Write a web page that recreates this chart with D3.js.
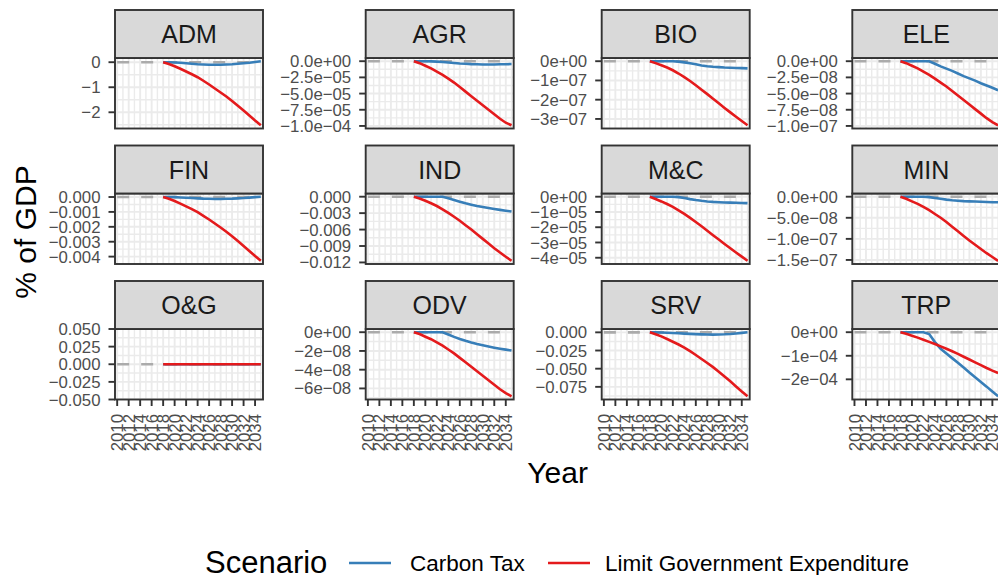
<!DOCTYPE html>
<html><head><meta charset="utf-8">
<script src="https://cdn.jsdelivr.net/npm/d3@7"></script>
<style>body{margin:0;background:#fff;} svg{display:block;font-family:"Liberation Sans",Arial,sans-serif;}</style>
</head><body><svg id="chart" width="998" height="575"></svg>
<script>
// ---------- data ----------
const sectors = ["ADM","AGR","BIO","ELE","FIN","IND","M&C","MIN","O&G","ODV","SRV","TRP"];
const years = [2018,2019,2020,2021,2022,2023,2024,2025,2026,2027,2028,2029,2030,2031,2032,2033,2034,2035];
const baselineYears = [2010, 2035];
const baselineValues = [0, 0];
const xTicks = [2010,2012,2014,2016,2018,2020,2022,2024,2026,2028,2030,2032,2034];
const scenarios = ["Carbon Tax","Limit Government Expenditure"];

// Carbon Tax
const admCT = [0,0,-0.01,-0.02,-0.04,-0.06,-0.08,-0.09,-0.1,-0.1,-0.1,-0.09,-0.08,-0.06,-0.04,-0.02,0.01,0.04];
const agrCT = [0,0,0,-0.2e-6,-0.6e-6,-1.2e-6,-2.0e-6,-2.8e-6,-3.5e-6,-4.0e-6,-4.5e-6,-4.8e-6,-5.0e-6,-5.0e-6,-5.0e-6,-4.8e-6,-4.6e-6,-4.4e-6];
const bioCT = [0,0,0,0,0,-0.02e-7,-0.06e-7,-0.11e-7,-0.16e-7,-0.22e-7,-0.26e-7,-0.29e-7,-0.31e-7,-0.33e-7,-0.34e-7,-0.35e-7,-0.36e-7,-0.37e-7];
const eleCT = [0,0,0,0,0,0,-0.04e-7,-0.08e-7,-0.115e-7,-0.15e-7,-0.19e-7,-0.23e-7,-0.265e-7,-0.3e-7,-0.34e-7,-0.375e-7,-0.41e-7,-0.45e-7];
const finCT = [0,0,-0.01e-3,-0.03e-3,-0.05e-3,-0.07e-3,-0.09e-3,-0.11e-3,-0.12e-3,-0.13e-3,-0.13e-3,-0.12e-3,-0.11e-3,-0.09e-3,-0.07e-3,-0.04e-3,-0.01e-3,0.02e-3];
const indCT = [0,0,0,0,0,0,-0.3e-3,-0.6e-3,-0.9e-3,-1.2e-3,-1.45e-3,-1.68e-3,-1.88e-3,-2.06e-3,-2.23e-3,-2.4e-3,-2.55e-3,-2.7e-3];
const mcCT  = [0,0,0,0,0,-0.03e-5,-0.09e-5,-0.16e-5,-0.22e-5,-0.27e-5,-0.31e-5,-0.34e-5,-0.36e-5,-0.38e-5,-0.39e-5,-0.4e-5,-0.41e-5,-0.42e-5];
const minCT = [0,0,0,0,0,-0.01e-7,-0.03e-7,-0.05e-7,-0.07e-7,-0.085e-7,-0.095e-7,-0.105e-7,-0.11e-7,-0.115e-7,-0.12e-7,-0.125e-7,-0.13e-7,-0.13e-7];
const ogCT  = [0,0,0,0,0,0,0,0,0,0,0,0,0,0,0,0,0,0];
const odvCT = [0,0,0,0,0,0,-0.25e-8,-0.5e-8,-0.72e-8,-0.92e-8,-1.1e-8,-1.26e-8,-1.4e-8,-1.53e-8,-1.65e-8,-1.76e-8,-1.86e-8,-1.95e-8];
const srvCT = [0,0,-0.02e-2,-0.05e-2,-0.09e-2,-0.13e-2,-0.17e-2,-0.21e-2,-0.25e-2,-0.28e-2,-0.3e-2,-0.31e-2,-0.3e-2,-0.27e-2,-0.22e-2,-0.15e-2,-0.07e-2,0.02e-2];
const trpCT = [0,0,0,0,0,-0.08e-4,-0.42e-4,-0.7e-4,-0.9e-4,-1.1e-4,-1.3e-4,-1.5e-4,-1.71e-4,-1.91e-4,-2.11e-4,-2.31e-4,-2.52e-4,-2.72e-4];

// Limit Government Expenditure
const admLGE = [0,-0.07,-0.16,-0.26,-0.37,-0.48,-0.6,-0.74,-0.89,-1.05,-1.21,-1.37,-1.55,-1.74,-1.93,-2.13,-2.33,-2.52];
const agrLGE = [0,-3e-6,-7e-6,-11e-6,-16e-6,-21e-6,-27e-6,-33e-6,-40e-6,-47e-6,-54e-6,-61e-6,-68e-6,-75e-6,-82e-6,-89e-6,-95e-6,-99e-6];
const bioLGE = [0,-0.1e-7,-0.21e-7,-0.33e-7,-0.47e-7,-0.64e-7,-0.83e-7,-1.03e-7,-1.25e-7,-1.48e-7,-1.71e-7,-1.95e-7,-2.19e-7,-2.43e-7,-2.66e-7,-2.89e-7,-3.11e-7,-3.33e-7];
const eleLGE = [0,-0.03e-7,-0.07e-7,-0.11e-7,-0.16e-7,-0.21e-7,-0.27e-7,-0.33e-7,-0.39e-7,-0.46e-7,-0.53e-7,-0.6e-7,-0.67e-7,-0.74e-7,-0.81e-7,-0.88e-7,-0.94e-7,-0.99e-7];
const finLGE = [0,-0.12e-3,-0.27e-3,-0.44e-3,-0.63e-3,-0.81e-3,-1.02e-3,-1.26e-3,-1.51e-3,-1.78e-3,-2.05e-3,-2.33e-3,-2.63e-3,-2.95e-3,-3.28e-3,-3.62e-3,-3.96e-3,-4.28e-3];
const indLGE = [0,-0.33e-3,-0.75e-3,-1.2e-3,-1.7e-3,-2.3e-3,-2.95e-3,-3.65e-3,-4.4e-3,-5.2e-3,-6.0e-3,-6.85e-3,-7.7e-3,-8.55e-3,-9.4e-3,-10.2e-3,-10.95e-3,-11.7e-3];
const mcLGE  = [0,-0.15e-5,-0.31e-5,-0.48e-5,-0.67e-5,-0.89e-5,-1.13e-5,-1.39e-5,-1.66e-5,-1.94e-5,-2.23e-5,-2.52e-5,-2.81e-5,-3.1e-5,-3.38e-5,-3.66e-5,-3.93e-5,-4.2e-5];
const minLGE = [0,-0.05e-7,-0.11e-7,-0.17e-7,-0.24e-7,-0.32e-7,-0.41e-7,-0.5e-7,-0.6e-7,-0.71e-7,-0.82e-7,-0.93e-7,-1.04e-7,-1.14e-7,-1.24e-7,-1.34e-7,-1.43e-7,-1.52e-7];
const ogLGE  = [0,0,0,0,0,0,0,0,0,0,0,0,0,0,0,0,0,0];
const odvLGE = [0,-0.2e-8,-0.48e-8,-0.75e-8,-1.09e-8,-1.44e-8,-1.85e-8,-2.26e-8,-2.74e-8,-3.21e-8,-3.69e-8,-4.17e-8,-4.65e-8,-5.13e-8,-5.61e-8,-6.09e-8,-6.5e-8,-6.84e-8];
const srvLGE = [0,-0.25e-2,-0.55e-2,-0.91e-2,-1.29e-2,-1.67e-2,-2.09e-2,-2.59e-2,-3.11e-2,-3.67e-2,-4.22e-2,-4.79e-2,-5.41e-2,-6.07e-2,-6.74e-2,-7.44e-2,-8.14e-2,-8.8e-2];
const trpLGE = [0,-0.07e-4,-0.15e-4,-0.23e-4,-0.32e-4,-0.41e-4,-0.5e-4,-0.6e-4,-0.7e-4,-0.81e-4,-0.92e-4,-1.04e-4,-1.16e-4,-1.28e-4,-1.4e-4,-1.52e-4,-1.63e-4,-1.73e-4];

// y-axis tick values and labels per panel
const admTicks = [0,-1,-2];                 const admLabels = ["0","\u22121","\u22122"];
const agrTicks = [0,-2.5e-5,-5e-5,-7.5e-5,-1e-4]; const agrLabels = ["0.0e+00","\u22122.5e\u221205","\u22125.0e\u221205","\u22127.5e\u221205","\u22121.0e\u221204"];
const bioTicks = [0,-1e-7,-2e-7,-3e-7];     const bioLabels = ["0e+00","\u22121e\u221207","\u22122e\u221207","\u22123e\u221207"];
const eleTicks = [0,-2.5e-8,-5e-8,-7.5e-8,-1e-7]; const eleLabels = ["0.0e+00","\u22122.5e\u221208","\u22125.0e\u221208","\u22127.5e\u221208","\u22121.0e\u221207"];
const finTicks = [0,-0.001,-0.002,-0.003,-0.004]; const finLabels = ["0.000","\u22120.001","\u22120.002","\u22120.003","\u22120.004"];
const indTicks = [0,-0.003,-0.006,-0.009,-0.012]; const indLabels = ["0.000","\u22120.003","\u22120.006","\u22120.009","\u22120.012"];
const mcTicks  = [0,-1e-5,-2e-5,-3e-5,-4e-5]; const mcLabels = ["0e+00","\u22121e\u221205","\u22122e\u221205","\u22123e\u221205","\u22124e\u221205"];
const minTicks = [0,-5e-8,-1e-7,-1.5e-7];   const minLabels = ["0.0e+00","\u22125.0e\u221208","\u22121.0e\u221207","\u22121.5e\u221207"];
const ogTicks  = [0.05,0.025,0,-0.025,-0.05]; const ogLabels = ["0.050","0.025","0.000","\u22120.025","\u22120.050"];
const odvTicks = [0,-2e-8,-4e-8,-6e-8];     const odvLabels = ["0e+00","\u22122e\u221208","\u22124e\u221208","\u22126e\u221208"];
const srvTicks = [0,-0.025,-0.05,-0.075];   const srvLabels = ["0.000","\u22120.025","\u22120.050","\u22120.075"];
const trpTicks = [0,-1e-4,-2e-4];           const trpLabels = ["0e+00","\u22121e\u221204","\u22122e\u221204"];

// ---------- assemble ----------
const ctList  = [admCT,agrCT,bioCT,eleCT,finCT,indCT,mcCT,minCT,ogCT,odvCT,srvCT,trpCT];
const lgeList = [admLGE,agrLGE,bioLGE,eleLGE,finLGE,indLGE,mcLGE,minLGE,ogLGE,odvLGE,srvLGE,trpLGE];
const tickList = [admTicks,agrTicks,bioTicks,eleTicks,finTicks,indTicks,mcTicks,minTicks,ogTicks,odvTicks,srvTicks,trpTicks];
const labelList = [admLabels,agrLabels,bioLabels,eleLabels,finLabels,indLabels,mcLabels,minLabels,ogLabels,odvLabels,srvLabels,trpLabels];

const colors = {"Carbon Tax":"#377EB8","Limit Government Expenditure":"#E41A1C"};

// ---------- layout ----------
const colLeft = [115, 365.7, 601.7, 852.3];
const panelW = 148;
const rowTop = [10, 145.5, 281];
const stripH = 48;
const panelH = 70.5;
const nCols = 4;
const lw = 2.6;
const frameCol = "#333333";
const tickFont = 16.8;

const svg = d3.select("#chart");
svg.append("rect").attr("width",998).attr("height",575).attr("fill","#fff");

const xDomain = [2009.62, 2035.38];

sectors.forEach((sec, i) => {
  const c = i % nCols, r = Math.floor(i / nCols);
  const x0 = colLeft[c], sy = rowTop[r], py = sy + stripH;
  const g = svg.append("g");

  const x = d3.scaleLinear().domain(xDomain).range([x0, x0 + panelW]);
  const all = ctList[i].concat(lgeList[i], baselineValues);
  let [mn, mx] = d3.extent(all);
  let dom;
  if (mx - mn === 0) dom = [mn - 0.05, mx + 0.05];
  else { const p = 0.05 * (mx - mn); dom = [mn - p, mx + p]; }
  const y = d3.scaleLinear().domain(dom).range([py + panelH, py]);

  const clipId = "clip" + i;
  g.append("clipPath").attr("id", clipId).append("rect")
    .attr("x", x0).attr("y", py).attr("width", panelW).attr("height", panelH);

  const pg = g.append("g").attr("clip-path", `url(#${clipId})`);
  pg.append("rect").attr("x", x0).attr("y", py).attr("width", panelW).attr("height", panelH).attr("fill", "#fff");

  // minor grid (midpoints between major breaks)
  const yt = tickList[i];
  const step = Math.abs(yt[1] - yt[0]);
  const ySorted = yt.slice().sort((a,b)=>a-b);
  const ext = [ySorted[0]-step].concat(ySorted, [ySorted[ySorted.length-1]+step]);
  const yMinor = [];
  for (let k = 0; k < ext.length - 1; k++) yMinor.push((ext[k] + ext[k+1]) / 2);
  const xExt = [xTicks[0]-2].concat(xTicks, [xTicks[xTicks.length-1]+2]);
  const xMinor = [];
  for (let k = 0; k < xExt.length - 1; k++) xMinor.push((xExt[k] + xExt[k+1]) / 2);

  pg.selectAll(".ymin").data(yMinor.filter(v => v >= dom[0] && v <= dom[1])).join("line")
    .attr("x1", x0).attr("x2", x0 + panelW).attr("y1", d => y(d)).attr("y2", d => y(d))
    .attr("stroke", "#EBEBEB").attr("stroke-width", 1.4);
  pg.selectAll(".xmin").data(xMinor.filter(v => v >= xDomain[0] && v <= xDomain[1])).join("line")
    .attr("y1", py).attr("y2", py + panelH).attr("x1", d => x(d)).attr("x2", d => x(d))
    .attr("stroke", "#EBEBEB").attr("stroke-width", 1.4);
  pg.selectAll(".ymaj").data(yt).join("line")
    .attr("x1", x0).attr("x2", x0 + panelW).attr("y1", d => y(d)).attr("y2", d => y(d))
    .attr("stroke", "#EBEBEB").attr("stroke-width", 1.9);
  pg.selectAll(".xmaj").data(xTicks).join("line")
    .attr("y1", py).attr("y2", py + panelH).attr("x1", d => x(d)).attr("x2", d => x(d))
    .attr("stroke", "#EBEBEB").attr("stroke-width", 1.9);

  // baseline dashed
  const bl = d3.line().x((d, k) => x(baselineYears[k])).y(d => y(d));
  pg.append("path").attr("d", bl(baselineValues)).attr("fill", "none")
    .attr("stroke", "#ABABAB").attr("stroke-width", lw).attr("stroke-dasharray", "12,12");

  const ln = d3.line().x((d, k) => x(years[k])).y(d => y(d));
  pg.append("path").attr("d", ln(ctList[i])).attr("fill", "none")
    .attr("stroke", colors["Carbon Tax"]).attr("stroke-width", lw);
  pg.append("path").attr("d", ln(lgeList[i])).attr("fill", "none")
    .attr("stroke", colors["Limit Government Expenditure"]).attr("stroke-width", lw);

  // panel border
  g.append("rect").attr("x", x0).attr("y", py).attr("width", panelW).attr("height", panelH)
    .attr("fill", "none").attr("stroke", frameCol).attr("stroke-width", 1.9);
  // strip
  g.append("rect").attr("x", x0).attr("y", sy).attr("width", panelW).attr("height", stripH)
    .attr("fill", "#D9D9D9").attr("stroke", frameCol).attr("stroke-width", 1.9);
  g.append("text").attr("x", x0 + panelW / 2).attr("y", sy + stripH / 2 + 9)
    .attr("text-anchor", "middle").attr("font-size", 25).attr("fill", "#1A1A1A").text(sec);

  // y axis
  const labs = labelList[i];
  g.selectAll(".ytk").data(yt).join("line")
    .attr("x1", x0 - 6.5).attr("x2", x0).attr("y1", d => y(d)).attr("y2", d => y(d))
    .attr("stroke", frameCol).attr("stroke-width", 1.9);
  g.selectAll(".ylb").data(yt).join("text")
    .attr("x", x0 - 14.5).attr("y", d => y(d)).attr("dy", "0.36em")
    .attr("text-anchor", "end").attr("font-size", tickFont).attr("fill", "#4D4D4D")
    .text((d, k) => labs[k]);

  // x axis only on bottom row
  if (r === rowTop.length - 1) {
    const yb = py + panelH;
    g.selectAll(".xtk").data(xTicks).join("line")
      .attr("x1", d => x(d)).attr("x2", d => x(d)).attr("y1", yb).attr("y2", yb + 6.5)
      .attr("stroke", frameCol).attr("stroke-width", 1.9);
    g.selectAll(".xlb").data(xTicks).join("text")
      .attr("transform", d => `translate(${x(d)},${yb + 14.5}) rotate(-90)`)
      .attr("dy", "0.36em").attr("text-anchor", "end")
      .attr("font-size", tickFont).attr("fill", "#4D4D4D").text(d => d);
  }
});

// axis titles
svg.append("text").attr("x", (colLeft[0] + colLeft[3] + panelW) / 2).attr("y", 483)
  .attr("text-anchor", "middle").attr("font-size", 30).attr("fill", "#000").text("Year");
svg.append("text").attr("transform", "translate(36,232) rotate(-90)")
  .attr("text-anchor", "middle").attr("font-size", 30).attr("fill", "#000").text("% of GDP");

// legend
const lg = svg.append("g");
lg.append("text").attr("x", 205).attr("y", 573).attr("font-size", 31).attr("fill", "#000").text("Scenario");
const legendX = [349, 548];
const legendTextX = [410, 605];
scenarios.forEach((s, k) => {
  lg.append("line").attr("x1", legendX[k]).attr("x2", legendX[k] + 42).attr("y1", 563).attr("y2", 563)
    .attr("stroke", colors[s]).attr("stroke-width", lw);
  lg.append("text").attr("x", legendTextX[k]).attr("y", 571).attr("font-size", 22.5).attr("fill", "#000").text(s);
});
</script>
</body></html>
